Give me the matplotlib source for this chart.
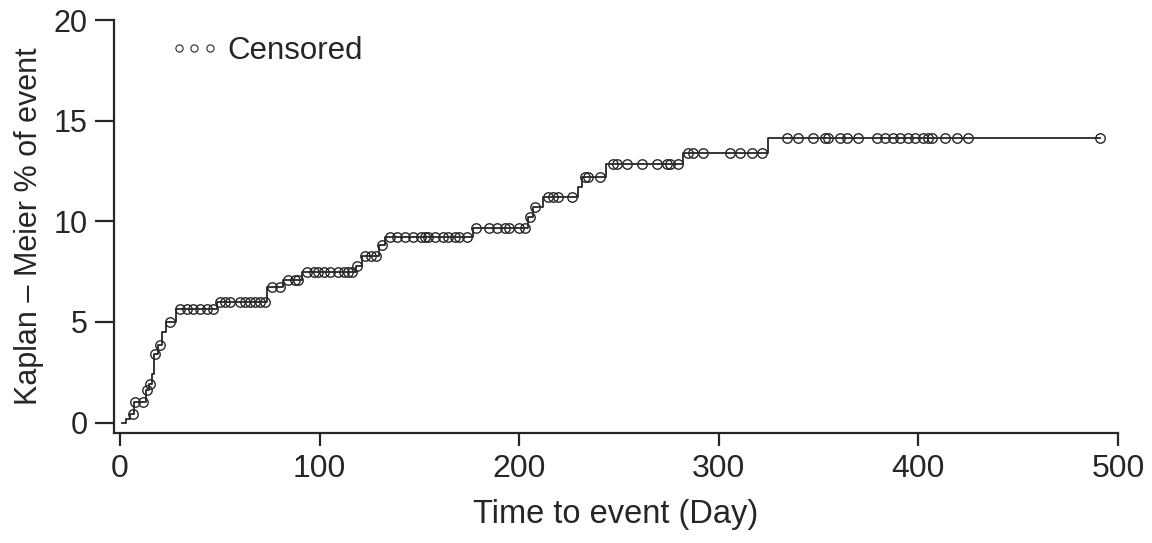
import numpy as np
import matplotlib.pyplot as plt
from matplotlib.lines import Line2D

plt.rcParams['font.family'] = ['Liberation Sans', 'DejaVu Sans']

# event times (day) and cumulative KM % after each event
event_days = [1, 3, 5, 7, 13, 14.5, 16, 17, 19, 21, 23, 28, 48.5, 73.5, 81.5, 91,
              118, 121, 129.5, 133, 177, 204.5, 207, 212, 229.5, 231.5, 243.5, 282, 324.6]
event_pct = [0, 0.2, 0.4, 1.0, 1.6, 1.9, 2.4, 3.4, 3.85, 4.5, 5.0, 5.65, 6.0, 6.74, 7.09, 7.49,
             7.8, 8.3, 8.8, 9.2, 9.65, 10.2, 10.7, 11.2, 11.7, 12.2, 12.85, 13.4, 14.15]
last_day = 491

# censored observations (day)
censored_days = [6.7, 7.5, 11.7, 13.4, 15, 17.5, 20, 25,
                 30, 33.5, 36.5, 40, 43.5, 46.5,
                 50, 52.5, 55, 60, 62.5, 65, 67.5, 70, 72.5,
                 76, 80, 84, 87.5, 89,
                 93.5, 97, 99, 102, 105, 109, 112, 114, 116,
                 118.7, 122.5, 125.5, 128, 131,
                 135.5, 139, 143, 147, 151, 153, 154.5, 158, 162, 164.5, 168, 170, 174,
                 178.5, 185, 189, 193, 195, 200, 203,
                 205.5, 208, 214.5, 217, 219.5, 226.5,
                 233, 234.5, 240.5,
                 247, 249, 254, 261.5, 269, 274, 275.5, 279.5,
                 284.6, 287.1, 292.1, 305.6, 310.6, 316.6, 321.6,
                 334.2, 339.7, 347.2, 353.2, 354.7, 360.7, 364.2, 369.6, 379.3, 383.3,
                 387.3, 390.8, 394.8, 398.3, 402.3, 404.8, 406.8, 413.3, 419.3, 424.8, 490.9]

xt = [0, 100, 200, 300, 400, 500]
yt = [0, 5, 10, 15, 20]

ed = np.array(event_days)
ep = np.array(event_pct)
cd = np.array(censored_days)
idx = np.searchsorted(ed, cd, side='right') - 1
cp = ep[idx]

fig = plt.figure(figsize=(11.52, 5.43), dpi=100)
ax = fig.add_axes([0.099, 0.2026, 0.8715, 0.7604])

ink = '#262626'
ax.step(np.append(ed, last_day), np.append(ep, ep[-1]), where='post', color=ink, lw=1.3)
ax.plot(cd, cp, ls='none', marker='o', ms=6.8, mfc='none', mec=ink, mew=1.0)

ax.set_xlim(-3, 500)
ax.set_ylim(-0.52, 20)
ax.set_xticks(xt)
ax.set_yticks(yt)

for s in ['top', 'right']:
    ax.spines[s].set_visible(False)
for s in ['left', 'bottom']:
    ax.spines[s].set_linewidth(1.6)
    ax.spines[s].set_color(ink)

ax.tick_params(axis='y', length=14, width=1.6, pad=5, labelsize=22, colors=ink)
ax.tick_params(axis='x', length=9, width=1.6, pad=6, labelsize=23, colors=ink)

ax.set_xlabel('Time to event (Day)', fontsize=23.5, color=ink, labelpad=11)
ax.set_ylabel('Kaplan – Meier % of event', fontsize=22, color=ink, labelpad=7)

h = Line2D([], [], ls='none', marker='o', ms=5.2, mfc='none', mec=ink, mew=0.8)
ax.legend([h], ['Censored'], numpoints=3, frameon=False, loc='upper left',
          bbox_to_anchor=(0.027, 1.03), fontsize=22.5, handlelength=1.6,
          handletextpad=0.25, labelcolor=ink)

plt.savefig('out.png', dpi=100)
